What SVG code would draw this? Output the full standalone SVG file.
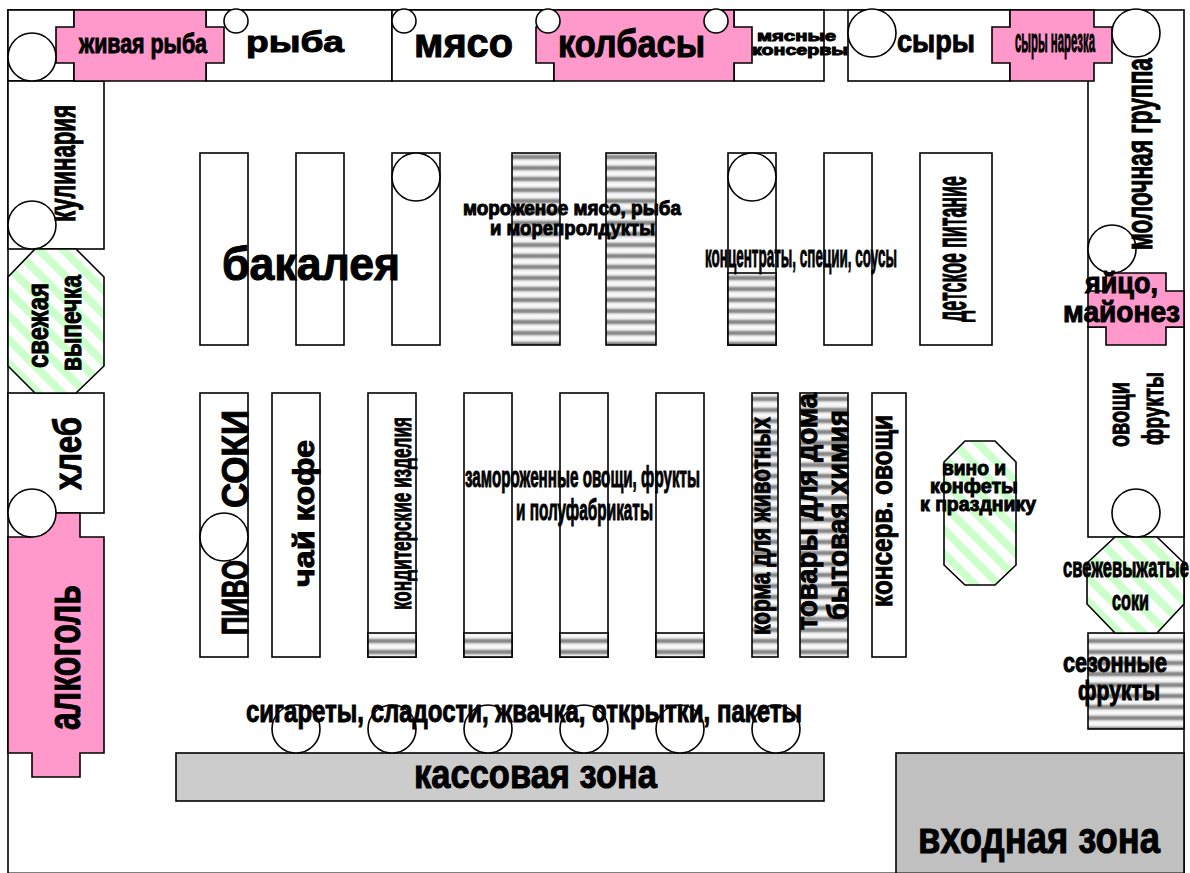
<svg xmlns="http://www.w3.org/2000/svg" width="1190" height="873" viewBox="0 0 1190 873">
<style>
.s{stroke:#000;stroke-width:1.6;fill:#fff}
.p{fill:#ff99cc}
.g{fill:url(#gray)}
.h{fill:url(#green)}
text{font-family:"Liberation Sans",Arial,sans-serif;font-weight:bold;fill:#000;stroke:#000;stroke-width:1}
</style>
<defs>
<linearGradient id="gs" x1="0" y1="0" x2="0" y2="1">
<stop offset="0" stop-color="#fff"/><stop offset=".26" stop-color="#e0e0e0"/><stop offset=".38" stop-color="#8a8a8a"/><stop offset=".62" stop-color="#8a8a8a"/><stop offset=".74" stop-color="#e0e0e0"/><stop offset="1" stop-color="#fff"/>
</linearGradient>
<pattern id="gray" patternUnits="userSpaceOnUse" x="0" y="151.5" width="20" height="11">
<rect width="20" height="11" fill="url(#gs)"/>
</pattern>
<pattern id="green" patternUnits="userSpaceOnUse" width="17" height="17" patternTransform="rotate(-45)">
<rect width="17" height="17" fill="#fff"/><rect width="8" height="17" fill="#ccffcc"/>
</pattern>
</defs>
<g id="frame"><rect class="s" x="8" y="10" width="1176" height="863.3"/></g>
<g id="cells">
<rect id="c-left" class="s" x="8" y="10" width="66" height="71"/>
<rect id="c-ryba" class="s" x="206" y="10" width="186" height="71"/>
<rect id="c-myaso" class="s" x="392" y="10" width="162" height="71"/>
<rect id="c-kons" class="s" x="734" y="10" width="90" height="71"/>
<rect id="c-syry" class="s" x="848" y="10" width="162" height="71"/>
<rect id="c-kulin" class="s" x="8" y="81" width="96" height="168"/>
<rect id="c-hleb" class="s" x="8" y="393" width="96" height="120"/>
<line id="c-molok" class="s" x1="1088" y1="81" x2="1088" y2="291"/>
<rect id="c-ovoshi" class="s" x="1088" y="327" width="96" height="210"/>
<rect id="c-sezon" class="s g" x="1088" y="633" width="96" height="96"/>
</g>
<g id="aisles">
<rect class="s" x="200" y="153" width="48" height="192"/>
<rect class="s" x="296" y="153" width="48" height="192"/>
<rect class="s" x="392" y="153" width="48" height="192"/>
<rect class="s g" x="512" y="153" width="48" height="192"/>
<rect class="s g" x="606" y="153" width="50" height="192"/>
<rect class="s" x="728" y="153" width="48" height="192"/>
<rect class="s g" x="728" y="273" width="48" height="72"/>
<rect class="s" x="824" y="153" width="48" height="192"/>
<rect class="s" x="920" y="153" width="72" height="192"/>
<rect class="s" x="200" y="393" width="48" height="264"/>
<rect class="s" x="272" y="393" width="48" height="264"/>
<rect class="s" x="368" y="393" width="48" height="264"/>
<rect class="s g" x="368" y="633" width="48" height="24"/>
<rect class="s" x="464" y="393" width="48" height="264"/>
<rect class="s g" x="464" y="633" width="48" height="24"/>
<rect class="s" x="560" y="393" width="48" height="264"/>
<rect class="s g" x="560" y="633" width="48" height="24"/>
<rect class="s" x="656" y="393" width="48" height="264"/>
<rect class="s g" x="656" y="633" width="48" height="24"/>
<rect class="s g" x="752" y="393" width="26" height="264"/>
<rect class="s g" x="800" y="393" width="48" height="264"/>
<rect class="s" x="872" y="393" width="34" height="264"/>
</g>
<g id="zones">
<rect id="kassa" class="s" style="fill:#cccccc" x="176" y="753" width="648" height="48"/>
<rect id="vhod" class="s" style="fill:#c0c0c0" x="896" y="753" width="288" height="120.3"/>
</g>
<g id="pink">
<polygon id="p-zhivaya" class="s p" points="74,10 206,10 206,27 224,27 224,63 206,63 206,81 74,81 74,63 56,63 56,27 74,27"/>
<polygon id="p-kolbasy" class="s p" points="554,10 734,10 734,27 752,27 752,63 734,63 734,81 554,81 554,63 536,63 536,27 554,27"/>
<polygon id="p-syry" class="s p" points="1010,10 1094,10 1094,27 1112,27 1112,63 1094,63 1094,81 1010,81 1010,63 992,63 992,27 1010,27"/>
<polygon id="p-yaico" class="s p" points="1106,273 1166,273 1166,291 1184,291 1184,327 1166,327 1166,345 1106,345 1106,327 1088,327 1088,291 1106,291"/>
<polygon id="p-alko" class="s p" points="32,513 80,513 80,537 104,537 104,753 80,753 80,777 32,777 32,753 8,753 8,537 32,537"/>
</g>
<g id="octagons">
<polygon id="o-vypechka" class="s h" points="35,249 76,249 104,277 104,366 76,393 35,393 8,366 8,277"/>
<polygon id="o-vino" class="s h" points="965,441 995,441 1016,462 1016,565 995,585 965,585 944,565 944,462"/>
<polygon id="o-soki" class="s h" points="1115,537 1157,537 1184,563 1184,604 1157,633 1115,633 1087,604 1087,563"/>
</g>
<g id="circles">
<circle class="s" cx="32" cy="57" r="24"/>
<circle class="s" cx="236" cy="21" r="12"/>
<circle class="s" cx="404" cy="21" r="12"/>
<circle class="s" cx="548" cy="21" r="12"/>
<circle class="s" cx="716" cy="21" r="12"/>
<circle class="s" cx="872" cy="33" r="24"/>
<circle class="s" cx="1136" cy="33" r="24"/>
<circle class="s" cx="32" cy="225" r="24"/>
<circle class="s" cx="32" cy="513" r="24"/>
<circle class="s" cx="416" cy="177" r="24"/>
<circle class="s" cx="752" cy="177" r="24"/>
<circle class="s" cx="1112" cy="249" r="24"/>
<circle class="s" cx="1136" cy="513" r="24"/>
<circle class="s" cx="224" cy="537" r="24"/>
<circle class="s" cx="296" cy="729" r="24"/>
<circle class="s" cx="392" cy="729" r="24"/>
<circle class="s" cx="488" cy="729" r="24"/>
<circle class="s" cx="584" cy="729" r="24"/>
<circle class="s" cx="680" cy="729" r="24"/>
<circle class="s" cx="776" cy="729" r="24"/>
</g>
<g id="labels">
<text x="79" y="53" font-size="28" textLength="128" lengthAdjust="spacingAndGlyphs">живая рыба</text>
<text x="246" y="52" font-size="30" textLength="98" lengthAdjust="spacingAndGlyphs">рыба</text>
<text x="414" y="57" font-size="40" textLength="99" lengthAdjust="spacingAndGlyphs">мясо</text>
<text x="558" y="57" font-size="38" textLength="147" lengthAdjust="spacingAndGlyphs">колбасы</text>
<text x="757" y="41" font-size="15" textLength="79" lengthAdjust="spacingAndGlyphs">мясные</text>
<text x="752" y="55" font-size="15" textLength="96" lengthAdjust="spacingAndGlyphs">консервы</text>
<text x="897" y="52" font-size="32" textLength="78" lengthAdjust="spacingAndGlyphs">сыры</text>
<text x="1015" y="52" font-size="34" textLength="80" lengthAdjust="spacingAndGlyphs">сыры нарезка</text>
<text x="222" y="280" font-size="46" textLength="178" lengthAdjust="spacingAndGlyphs">бакалея</text>
<text x="463" y="215" font-size="20" textLength="218" lengthAdjust="spacingAndGlyphs">мороженое мясо, рыба</text>
<text x="490" y="235" font-size="20" textLength="165" lengthAdjust="spacingAndGlyphs">и морепролдукты</text>
<text x="705" y="267" font-size="32" textLength="192" lengthAdjust="spacingAndGlyphs">концентраты, специи, соусы</text>
<text x="465" y="487" font-size="30" textLength="235" lengthAdjust="spacingAndGlyphs">замороженные овощи, фрукты</text>
<text x="516" y="520" font-size="30" textLength="137" lengthAdjust="spacingAndGlyphs">и полуфабрикаты</text>
<text x="942" y="475" font-size="20" textLength="64" lengthAdjust="spacingAndGlyphs">вино и</text>
<text x="930" y="493" font-size="20" textLength="88" lengthAdjust="spacingAndGlyphs">конфеты</text>
<text x="920" y="511" font-size="20" textLength="116" lengthAdjust="spacingAndGlyphs">к празднику</text>
<text x="1063" y="577" font-size="28" textLength="126" lengthAdjust="spacingAndGlyphs">свежевыжатые</text>
<text x="1112" y="610" font-size="28" textLength="37" lengthAdjust="spacingAndGlyphs">соки</text>
<text x="1063" y="672" font-size="28" textLength="104" lengthAdjust="spacingAndGlyphs">сезонные</text>
<text x="1078" y="700" font-size="28" textLength="82" lengthAdjust="spacingAndGlyphs">фрукты</text>
<text x="1085" y="293" font-size="30" textLength="73" lengthAdjust="spacingAndGlyphs">яйцо,</text>
<text x="1063" y="322" font-size="30" textLength="117" lengthAdjust="spacingAndGlyphs">майонез</text>
<text x="246" y="722" font-size="32" textLength="556" lengthAdjust="spacingAndGlyphs">сигареты, сладости, жвачка, открытки, пакеты</text>
<text x="414" y="788" font-size="40" textLength="243" lengthAdjust="spacingAndGlyphs">кассовая зона</text>
<text x="918" y="853" font-size="44" textLength="242" lengthAdjust="spacingAndGlyphs">входная зона</text>
<text transform="translate(75,222) rotate(-90)" font-size="36" textLength="117" lengthAdjust="spacingAndGlyphs">кулинария</text>
<text transform="translate(48,368) rotate(-90)" font-size="30" textLength="85" lengthAdjust="spacingAndGlyphs">свежая</text>
<text transform="translate(81,371) rotate(-90)" font-size="30" textLength="96" lengthAdjust="spacingAndGlyphs">выпечка</text>
<text transform="translate(81,490) rotate(-90)" font-size="38" textLength="73" lengthAdjust="spacingAndGlyphs">хлеб</text>
<text transform="translate(80,730) rotate(-90)" font-size="46" textLength="145" lengthAdjust="spacingAndGlyphs">алкоголь</text>
<text transform="translate(248,508) rotate(-90)" font-size="36" textLength="98" lengthAdjust="spacingAndGlyphs">СОКИ</text>
<text transform="translate(248,635) rotate(-90)" font-size="36" textLength="75" lengthAdjust="spacingAndGlyphs">ПИВО</text>
<text transform="translate(314,587) rotate(-90)" font-size="30" textLength="147" lengthAdjust="spacingAndGlyphs">чай кофе</text>
<text transform="translate(411,610) rotate(-90)" font-size="30" textLength="193" lengthAdjust="spacingAndGlyphs">кондитерские изделия</text>
<text transform="translate(770,635) rotate(-90)" font-size="28" textLength="218" lengthAdjust="spacingAndGlyphs">корма для животных</text>
<text transform="translate(817,630) rotate(-90)" font-size="30" textLength="237" lengthAdjust="spacingAndGlyphs">товары для дома</text>
<text transform="translate(848,620) rotate(-90)" font-size="30" textLength="210" lengthAdjust="spacingAndGlyphs">бытовая химия</text>
<text transform="translate(892,607) rotate(-90)" font-size="30" textLength="192" lengthAdjust="spacingAndGlyphs">консерв. овощи</text>
<text transform="translate(966,322) rotate(-90)" font-size="42" textLength="146" lengthAdjust="spacingAndGlyphs">детское питание</text>
<text transform="translate(1152,250) rotate(-90)" font-size="36" textLength="192" lengthAdjust="spacingAndGlyphs">молочная группа</text>
<text transform="translate(1129,447) rotate(-90)" font-size="30" textLength="65" lengthAdjust="spacingAndGlyphs">овощи</text>
<text transform="translate(1163,445) rotate(-90)" font-size="30" textLength="73" lengthAdjust="spacingAndGlyphs">фрукты</text>
</g>
</svg>
